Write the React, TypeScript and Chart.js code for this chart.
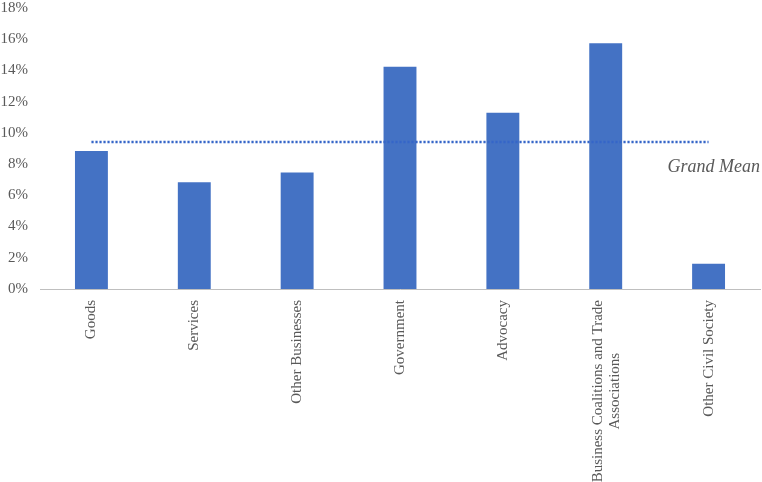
import React, { useEffect, useRef } from "react";
import { Chart, registerables } from "chart.js";

Chart.register(...registerables);

const categories: (string | string[])[] = [
  "Goods",
  "Services",
  "Other Businesses",
  "Government",
  "Advocacy",
  ["Business Coalitions and Trade", "Associations"],
  "Other Civil Society",
];

const shares = [8.84, 6.84, 7.46, 14.23, 11.29, 15.75, 1.62];

const grandMeanLine = [9.42, 9.42, 9.42, 9.42, 9.42, 9.42, 9.42];
const grandMeanLabel = "Grand Mean";

const yTicks = [0, 2, 4, 6, 8, 10, 12, 14, 16, 18];

const FONT = "'Times New Roman', 'Liberation Serif', serif";
const TEXT_COLOR = "#595959";

const labelsPlugin = {
  id: "customLabels",
  afterDraw(chart: any) {
    const ctx = chart.ctx;
    const xs = chart.scales.x;
    const ys = chart.scales.y;
    ctx.save();
    ctx.fillStyle = TEXT_COLOR;
    ctx.font = `15px ${FONT}`;
    categories.forEach((lab, i) => {
      const lines = Array.isArray(lab) ? lab : [lab];
      const x = xs.getPixelForValue(i);
      const widths = lines.map((l) => ctx.measureText(l).width);
      const maxW = Math.max(...widths);
      const lh = 17;
      lines.forEach((line, j) => {
        ctx.save();
        const lx = x + (j - (lines.length - 1) / 2) * lh + (lines.length > 1 ? 1 : 0);
        ctx.translate(lx, xs.top + 11);
        ctx.rotate(-Math.PI / 2);
        ctx.textAlign = "center";
        ctx.textBaseline = "middle";
        ctx.fillText(line, -maxW / 2, 0);
        ctx.restore();
      });
    });
    // Grand mean annotation
    ctx.font = `italic 18px ${FONT}`;
    ctx.textAlign = "left";
    ctx.textBaseline = "alphabetic";
    const gx = xs.getPixelForValue(categories.length - 1) - 41;
    const gy = ys.getPixelForValue(grandMeanLine[grandMeanLine.length - 1]) + 30;
    ctx.fillText(grandMeanLabel, gx, gy);
    ctx.restore();
  },
};

export default function App() {
  const canvasRef = useRef<HTMLCanvasElement | null>(null);

  useEffect(() => {
    if (!canvasRef.current) return;
    const chart = new Chart(canvasRef.current, {
      type: "bar",
      data: {
        labels: categories as any,
        datasets: [
          {
            type: "line",
            label: grandMeanLabel,
            data: grandMeanLine,
            borderColor: "#3566C8",
            borderWidth: 2.5,
            borderDash: [2.2, 1.8],
            pointRadius: 0,
            fill: false,
            order: 0,
          } as any,
          {
            type: "bar",
            label: "Share",
            data: shares,
            backgroundColor: "#4472C4",
            borderWidth: 0,
            categoryPercentage: 1,
            barPercentage: 0.32,
            order: 1,
          },
        ],
      },
      options: {
        animation: false,
        responsive: true,
        maintainAspectRatio: false,
        layout: { padding: { top: 8, right: 2, left: 0, bottom: 0 } },
        plugins: {
          legend: { display: false },
          tooltip: { enabled: false },
        },
        scales: {
          x: {
            grid: { display: false, drawTicks: false },
            border: { display: true, color: "#BFBFBF", width: 1 },
            ticks: { display: false },
            afterFit(scale: any) {
              scale.height = 193;
            },
          },
          y: {
            min: 0,
            max: 18,
            grid: { display: false, drawTicks: false },
            border: { display: false },
            afterBuildTicks(scale: any) {
              scale.ticks = yTicks.map((v) => ({ value: v }));
            },
            ticks: {
              stepSize: 2,
              padding: 12,
              color: TEXT_COLOR,
              font: { family: FONT, size: 15 },
              callback: (v: any) => `${v}%`,
            },
            afterFit(scale: any) {
              scale.width = 40;
              scale.paddingTop = 0;
              scale.paddingBottom = 0;
            },
          },
        },
      },
      plugins: [labelsPlugin],
    });
    return () => chart.destroy();
  }, []);

  return (
    <div style={{ position: "absolute", left: 0, top: 0, width: 762, height: 482 }}>
      <canvas ref={canvasRef} />
    </div>
  );
}
